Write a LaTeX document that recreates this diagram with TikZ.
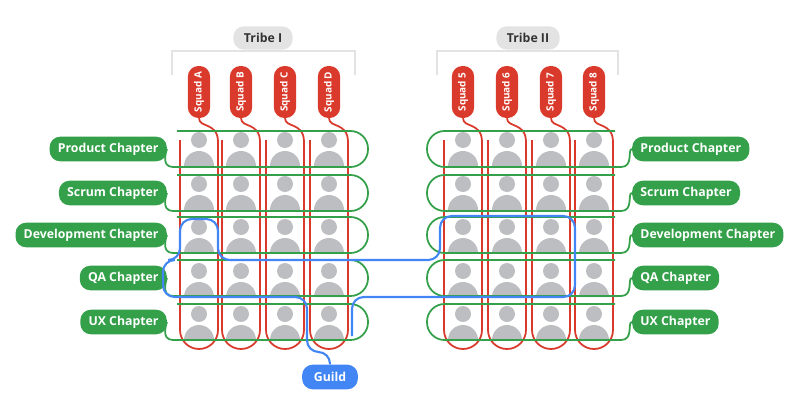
\documentclass[tikz,border=0pt]{standalone}
\usepackage{fontspec}
\setmainfont{Open Sans}
\usetikzlibrary{positioning}

\definecolor{sqred}{HTML}{D93A2B}
\definecolor{chgreen}{HTML}{34A04A}
\definecolor{gdblue}{HTML}{4285F4}
\definecolor{pgray}{HTML}{BDBEC2}
\definecolor{tgray}{HTML}{E3E3E3}

\tikzset{
  chapter/.style={fill=chgreen, text=white, rounded corners=9pt, minimum height=21pt, inner xsep=7pt, font=\fontsize{10.5}{12}\selectfont\bfseries},
  squad/.style={fill=sqred, text=white, rounded corners=9pt, rotate=90, minimum width=52*0.03cm, minimum height=19pt, inner sep=1pt, font=\fontsize{8.5}{10}\selectfont\bfseries},
  tribe/.style={fill=tgray, text=black!80, rounded corners=9pt, minimum height=20pt, inner xsep=9pt, font=\fontsize{10.5}{12}\selectfont\bfseries},
  sqline/.style={sqred, line width=1.5pt},
  chline/.style={chgreen, line width=1.5pt, rounded corners=15pt},
  guildline/.style={gdblue, line width=1.8pt, rounded corners=10pt},
}

\begin{document}
\begin{tikzpicture}[x=0.03cm, y=-0.03cm]
\useasboundingbox (0,0) rectangle (804,414);

% people
\foreach \c in {199,241,285,329,463,507,551,594} {
  \foreach \r in {148,192,235,279,322} {
    \fill[pgray] (\c,\r-8) circle[radius=8];
    \fill[pgray] (\c-15,\r+18) arc[start angle=180, end angle=360, radius=15] -- cycle;
  }
}

% tribes
\node[tribe] (tribeI) at (263,38) {Tribe I};
\node[tribe] (tribeII) at (528,38) {Tribe II};
\draw[tgray, line width=1.2pt] (172,75) -- (172,51) -- (355,51) -- (355,75);
\draw[tgray, line width=1.2pt] (437,75) -- (437,51) -- (618,51) -- (618,75);

% squads
\foreach \c/\n in {199/A,241/B,285/C,329/D} {
  \node[squad] (sq\n) at (\c,92) {Squad \n};
  \draw[sqline] (sq\n.west) .. controls (\c,128) and (\c+19,122) .. (\c+19,142)
    -- (\c+19,330) arc[start angle=0, end angle=180, radius=19] -- (\c-19,140);
}
\foreach \c/\n in {463/5,507/6,551/7,594/8} {
  \node[squad] (sq\n) at (\c,92) {Squad \n};
  \draw[sqline] (sq\n.west) .. controls (\c,128) and (\c+19,122) .. (\c+19,142)
    -- (\c+19,330) arc[start angle=0, end angle=180, radius=19] -- (\c-19,140);
}

% chapters
\foreach \r/\n/\t in {149/prod/Product Chapter,193/scrum/Scrum Chapter,235/dev/Development Chapter,278/qa/QA Chapter,322/ux/UX Chapter} {
  \node[chapter, anchor=east] (l\n) at (167,\r) {\t};
  \node[chapter, anchor=west] (r\n) at (632,\r) {\t};
  \draw[chline] (177,\r-18) -- (368,\r-18) -- (368,\r+18) -- (172,\r+18);
  \draw[chgreen, line width=1.5pt] (173,\r+18) .. controls (160,\r+18) and (167,\r) .. (l\n.east);
  \draw[chline] (615,\r-18) -- (427,\r-18) -- (427,\r+18) -- (622,\r+18);
  \draw[chgreen, line width=1.5pt] (621,\r+18) .. controls (634,\r+18) and (627,\r) .. (r\n.west);
}

% guild
\node[fill=gdblue, text=white, rounded corners=9pt, minimum height=21pt, inner xsep=10pt, font=\fontsize{10.5}{12}\selectfont\bfseries] (guild) at (330,377) {Guild};
\draw[guildline] (guild.north) -- (330,352) -- (307,352) -- (307,297) -- (163,297) -- (163,260)
  -- (180,260) -- (180,219) -- (218,219) -- (218,260) -- (440,260) -- (440,216)
  -- (575,216) -- (575,297) -- (352,297) -- (352,336);

\end{tikzpicture}
\end{document}
